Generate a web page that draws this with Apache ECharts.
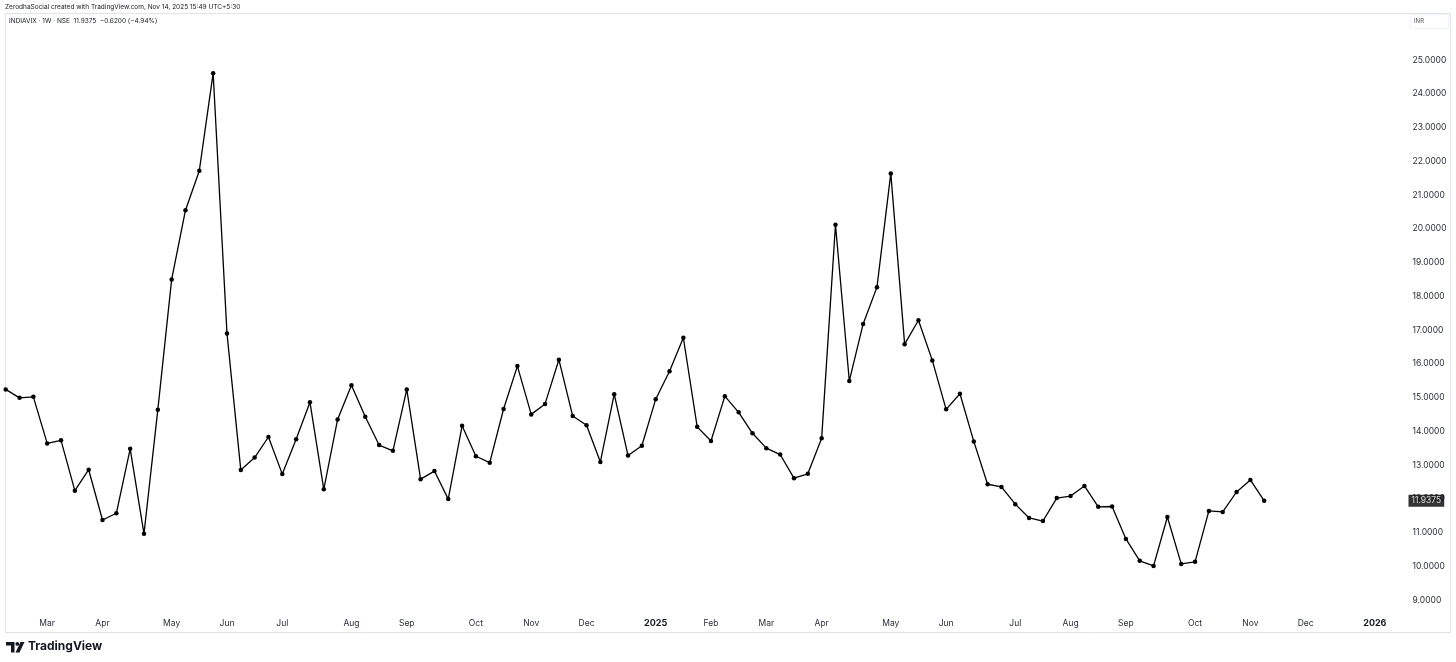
<!DOCTYPE html>
<html><head><meta charset="utf-8">
<script src="https://cdn.jsdelivr.net/npm/echarts@6/dist/echarts.min.js"></script>
<style>html,body{margin:0;padding:0;background:#fff}#c{width:1456px;height:662px}</style>
</head><body><div id="c"></div><script>
// Weekly closes of INDIA VIX, one per week starting week of 12 Feb 2024
const closes = [
  15.24, 14.99, 15.02, 13.64, 13.73, 12.24, 12.86, 11.37, 11.57, 13.48,
  10.96, 14.64, 18.50, 20.55, 21.72, 24.61, 16.90, 12.85, 13.22, 13.83,
  12.73, 13.76, 14.86, 12.28, 14.35, 15.36, 14.43, 13.59, 13.42, 15.24,
  12.58, 12.82, 11.99, 14.16, 13.26, 13.07, 14.66, 15.93, 14.50, 14.81,
  16.12, 14.45, 14.18, 13.09, 15.10, 13.28, 13.57, 14.95, 15.78, 16.77,
  14.13, 13.71, 15.04, 14.56, 13.94, 13.50, 13.31, 12.61, 12.74, 13.79,
  20.12, 15.49, 17.18, 18.27, 21.64, 16.58, 17.29, 16.10, 14.65, 15.11,
  13.70, 12.43, 12.35, 11.84, 11.43, 11.34, 12.02, 12.08, 12.38, 11.76,
  11.77, 10.81, 10.16, 10.01, 11.46, 10.07, 10.13, 11.64, 11.61, 12.20,
  12.5575, 11.9375
];
// Time-scale tick labels, placed at the bar index where each month starts
const tickIndex  = [3, 7, 12, 16, 20, 25, 29, 34, 38, 42, 47, 51, 55, 59, 64, 68, 73, 77, 81, 86, 90, 94, 99];
const tickLabels = ['Mar','Apr','May','Jun','Jul','Aug','Sep','Oct','Nov','Dec','2025','Feb','Mar','Apr','May','Jun','Jul','Aug','Sep','Oct','Nov','Dec','2026'];
const yearLabels = ['2025', '2026'];
const lastClose = closes[closes.length - 1];
const X_MAX = 101;

const FONT = 'Inter, "Noto Sans", sans-serif';
const seriesData = closes.map((v, i) => [i, v]);

const chart = echarts.init(document.getElementById('c'), null, {renderer: 'canvas'});
chart.setOption({
  animation: false,
  backgroundColor: '#ffffff',
  grid: {left: 5.7, top: 60, width: 1396.8, height: 540},
  xAxis: {
    type: 'value', min: 0, max: X_MAX,
    axisLine: {show: false}, axisTick: {show: false}, splitLine: {show: false},
    axisLabel: {
      customValues: tickIndex,
      margin: 19,
      fontSize: 8.5, color: '#2a2e39', fontFamily: FONT,
      formatter: function (v) {
        const t = tickLabels[tickIndex.indexOf(Math.round(v))];
        return yearLabels.indexOf(t) >= 0 ? '{b|' + t + '}' : t;
      },
      rich: {b: {fontWeight: 'bold', fontSize: 9, color: '#131722', fontFamily: FONT}}
    }
  },
  yAxis: {
    type: 'value', position: 'right', min: 9, max: 25, interval: 1,
    axisLine: {show: false}, axisTick: {show: false}, splitLine: {show: false},
    axisLabel: {
      margin: 10, fontSize: 8.5, color: '#2a2e39', fontFamily: FONT,
      formatter: v => v.toFixed(4)
    }
  },
  series: [{
    type: 'line',
    data: seriesData,
    clip: false,
    symbol: 'circle', symbolSize: 4.5, showSymbol: true,
    lineStyle: {color: '#000000', width: 1.3},
    itemStyle: {color: '#000000'}
  }, {
    // last-price label on the price scale
    type: 'scatter',
    data: [[X_MAX, lastClose]],
    clip: false, silent: true,
    symbol: 'rect', symbolSize: 0.01,
    itemStyle: {color: 'rgba(0,0,0,0)'},
    label: {
      show: true, position: 'right', distance: 6,
      formatter: () => lastClose.toFixed(4),
      backgroundColor: '#000000', color: '#ffffff',
      fontSize: 8.5, fontFamily: FONT, padding: [2, 3, 1, 3]
    }
  }],
  graphic: [
    {type: 'rect', shape: {x: 5.5, y: 13.5, width: 1445, height: 619}, style: {fill: 'none', stroke: '#e0e3eb', lineWidth: 1}, silent: true},
    {type: 'text', left: 5, top: 4, style: {text: 'ZerodhaSocial created with TradingView.com, Nov 14, 2025 15:49 UTC+5:30', font: '6.5px ' + FONT, fill: '#131722'}},
    {type: 'text', left: 9, top: 18, style: {text: 'INDIAVIX · 1W · NSE  11.9375  −0.6200 (−4.94%)', font: '6.5px ' + FONT, fill: '#131722'}},
    {type: 'rect', shape: {x: 1410.5, y: 14.5, width: 38, height: 14}, style: {fill: '#ffffff', stroke: '#f0f3fa', lineWidth: 1}},
    {type: 'text', left: 1414, top: 18, style: {text: 'INR', font: '6px ' + FONT, fill: '#555'}},
    // TradingView logo
    {type: 'polygon', shape: {points: [[6, 642], [14.5, 642], [14.5, 652.5], [11, 652.5], [11, 645.5], [6, 645.5]]}, style: {fill: '#131722'}},
    {type: 'circle', shape: {cx: 17.3, cy: 643.9, r: 1.9}, style: {fill: '#131722'}},
    {type: 'polygon', shape: {points: [[20.5, 642], [24.5, 642], [19.5, 652.5], [15.5, 652.5]]}, style: {fill: '#131722'}},
    {type: 'text', left: 28, top: 640, style: {text: 'TradingView', font: 'bold 12px ' + FONT, fill: '#131722'}}
  ]
});
</script></body></html>
